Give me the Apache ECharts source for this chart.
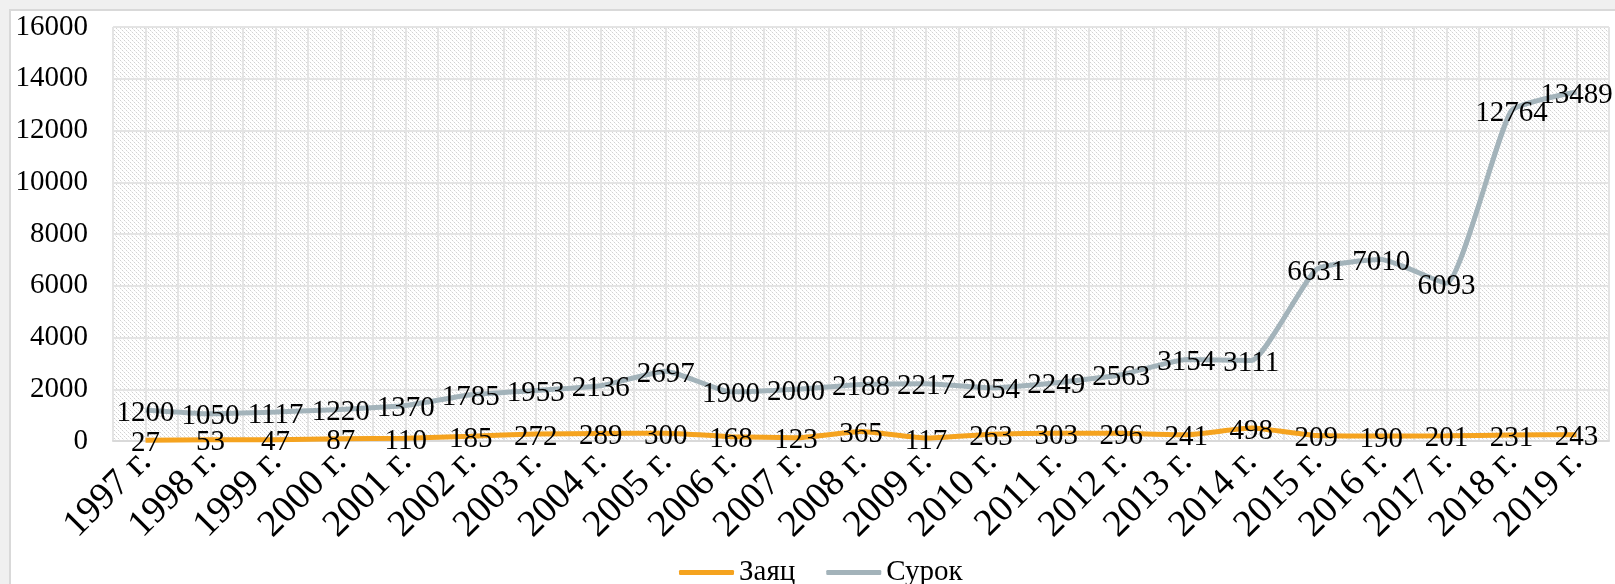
<!DOCTYPE html>
<html>
<head>
<meta charset="utf-8">
<script src="https://cdn.jsdelivr.net/npm/echarts@6/dist/echarts.min.js"></script>
<style>
  html, body { margin: 0; padding: 0; background: #f0f0f0; overflow: hidden; }
  #frame { position: absolute; left: 9px; top: 9px; width: 1620px; height: 590px; background: #fff; border-left: 2px solid #d9d9d9; border-top: 2px solid #d9d9d9; }
  #chart { position: absolute; left: 0; top: 0; width: 1615px; height: 584px; }
</style>
</head>
<body>
<div id="frame"></div>
<div id="chart"></div>
<script>
// Years of observation
const years = ['1997 г.', '1998 г.', '1999 г.', '2000 г.', '2001 г.', '2002 г.', '2003 г.', '2004 г.',
  '2005 г.', '2006 г.', '2007 г.', '2008 г.', '2009 г.', '2010 г.', '2011 г.', '2012 г.', '2013 г.',
  '2014 г.', '2015 г.', '2016 г.', '2017 г.', '2018 г.', '2019 г.'];

// Counts per species
const hare = [27, 53, 47, 87, 110, 185, 272, 289, 300, 168, 123, 365, 117, 263, 303, 296, 241, 498,
  209, 190, 201, 231, 243];
const marmot = [1200, 1050, 1117, 1220, 1370, 1785, 1953, 2136, 2697, 1900, 2000, 2188, 2217, 2054,
  2249, 2563, 3154, 3111, 6631, 7010, 6093, 12764, 13489];

const seriesNames = ['Заяц', 'Сурок'];
const seriesColors = ['#f5a31f', '#a3b3ba'];
const yTicks = { min: 0, max: 16000, interval: 2000 };

// Dotted diagonal hatch used as the plot area fill
function hatch() {
  const c = document.createElement('canvas');
  c.width = 4; c.height = 4;
  const g = c.getContext('2d');
  g.fillStyle = '#ffffff';
  g.fillRect(0, 0, 4, 4);
  g.fillStyle = '#d2d2d2';
  g.fillRect(0, 0, 1, 1);
  g.fillRect(2, 2, 1, 1);
  g.fillStyle = '#ededed';
  g.fillRect(1, 1, 1, 1);
  g.fillRect(3, 3, 1, 1);
  return c;
}

const font = 'Liberation Serif';
const chart = echarts.init(document.getElementById('chart'), null, { renderer: 'canvas' });

const labelStyle = {
  show: true,
  position: 'inside',
  offset: [0, 3],
  align: 'center',
  verticalAlign: 'middle',
  color: '#000',
  fontFamily: font,
  fontSize: 29
};

function lineSeries(i, values) {
  return {
    name: seriesNames[i],
    type: 'line',
    data: values,
    smooth: 0.15,
    symbol: 'circle',
    symbolSize: 0.1,
    showSymbol: true,
    z: 3,
    lineStyle: { color: seriesColors[i], width: 5 },
    itemStyle: { color: seriesColors[i] },
    label: labelStyle
  };
}

chart.setOption({
  animation: false,
  backgroundColor: 'transparent',
  grid: {
    left: 113, right: 6, top: 27, bottom: 143,
    show: true,
    backgroundColor: { image: hatch(), repeat: 'repeat' },
    borderWidth: 0
  },
  legend: {
    left: 674, top: 553,
    itemWidth: 55, itemHeight: 5, itemGap: 31,
    icon: 'roundRect',
    textStyle: { fontFamily: font, fontSize: 29, color: '#000', padding: [0, 0, 0, 0] },
    data: seriesNames.map((n, i) => ({ name: n, itemStyle: { color: seriesColors[i] } }))
  },
  xAxis: [{
    type: 'category',
    data: years,
    boundaryGap: true,
    axisLine: { show: true, lineStyle: { color: '#d9d9d9', width: 2 } },
    axisTick: { show: false },
    splitLine: { show: false },
    axisLabel: {
      interval: 0, rotate: 45, margin: 15,
      fontFamily: font, fontSize: 38, color: '#000'
    }
  }, {
    // half-category grid lines
    type: 'value',
    min: 0, max: years.length * 2, interval: 1,
    show: true,
    position: 'top',
    axisLine: { show: false },
    axisTick: { show: false },
    axisLabel: { show: false },
    splitLine: { show: true, lineStyle: { color: '#e4e4e4', width: 2 } }
  }],
  yAxis: {
    type: 'value',
    min: yTicks.min, max: yTicks.max, interval: yTicks.interval,
    axisLine: { show: false },
    axisTick: { show: false },
    axisLabel: { margin: 25, fontFamily: font, fontSize: 29, color: '#000', formatter: v => String(v) },
    splitLine: { show: true, lineStyle: { color: '#e4e4e4', width: 2 } }
  },
  series: [lineSeries(0, hare), lineSeries(1, marmot)]
});
</script>
</body>
</html>
